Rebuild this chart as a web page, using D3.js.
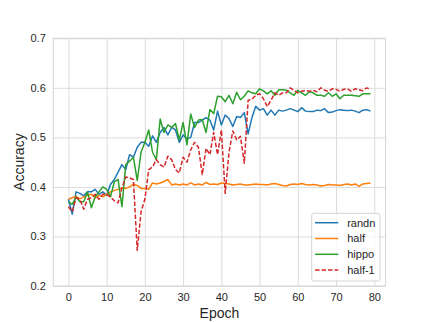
<!DOCTYPE html>
<html>
<head>
<meta charset="utf-8">
<script src="https://cdn.jsdelivr.net/npm/d3@7"></script>
<style>
  body { margin: 0; background: #fff; }
  svg text { font-family: "Liberation Sans", Arial, sans-serif; fill: #262626; }
</style>
</head>
<body>
<div id="chart"></div>
<script>
const width = 429,
    height = 322;

const margin = {left: 53.3, right: 429 - 385.6, top: 38.3, bottom: 322 - 286};

// epochs 0..79
const epochs = d3.range(0, 80);

const seriesNames = ["randn", "half", "hippo", "half-1"];

const randn = [
    0.375, 0.345, 0.390, 0.387, 0.382, 0.390, 0.390, 0.395, 0.385, 0.390,
    0.383, 0.405, 0.415, 0.430, 0.445, 0.435, 0.465, 0.460, 0.480, 0.490,
    0.490, 0.482, 0.503, 0.490, 0.510, 0.520, 0.505, 0.520, 0.515, 0.490,
    0.505, 0.497, 0.500, 0.530, 0.530, 0.535, 0.540, 0.535, 0.515, 0.553,
    0.525, 0.545, 0.538, 0.522, 0.542, 0.540, 0.550, 0.507, 0.540, 0.563,
    0.555, 0.558, 0.545, 0.555, 0.545, 0.555, 0.553, 0.555, 0.558, 0.555,
    0.552, 0.560, 0.553, 0.552, 0.552, 0.555, 0.554, 0.558, 0.550, 0.551,
    0.554, 0.556, 0.555, 0.554, 0.555, 0.553, 0.550, 0.555, 0.556, 0.553
];

const half = [
    0.375, 0.378, 0.381, 0.376, 0.380, 0.383, 0.385, 0.378, 0.383, 0.380,
    0.385, 0.390, 0.393, 0.395, 0.398, 0.397, 0.400, 0.405, 0.403, 0.397,
    0.397, 0.395, 0.408, 0.406, 0.408, 0.411, 0.415, 0.404, 0.406, 0.404,
    0.406, 0.404, 0.408, 0.404, 0.406, 0.404, 0.409, 0.405, 0.406, 0.405,
    0.408, 0.407, 0.406, 0.404, 0.405, 0.406, 0.404, 0.404, 0.405, 0.406,
    0.405, 0.405, 0.404, 0.406, 0.407, 0.405, 0.403, 0.402, 0.405, 0.406,
    0.405, 0.407, 0.405, 0.404, 0.405, 0.404, 0.402, 0.403, 0.405, 0.404,
    0.404, 0.403, 0.405, 0.406, 0.404, 0.406, 0.401, 0.406, 0.407, 0.408
];

const hippo = [
    0.370, 0.365, 0.380, 0.370, 0.370, 0.390, 0.358, 0.380, 0.390, 0.400,
    0.395, 0.380, 0.410, 0.415, 0.360, 0.445, 0.452, 0.460, 0.413, 0.470,
    0.490, 0.515, 0.470, 0.455, 0.537, 0.510, 0.525, 0.520, 0.528, 0.495,
    0.530, 0.485, 0.547, 0.520, 0.535, 0.536, 0.510, 0.556, 0.548, 0.583,
    0.582, 0.572, 0.585, 0.568, 0.591, 0.576, 0.583, 0.594, 0.590, 0.588,
    0.598, 0.594, 0.588, 0.594, 0.585, 0.596, 0.596, 0.595, 0.590, 0.585,
    0.595, 0.590, 0.585, 0.592, 0.590, 0.585, 0.585, 0.583, 0.590, 0.583,
    0.588, 0.578, 0.585, 0.585, 0.585, 0.584, 0.583, 0.588, 0.588, 0.588
];

const halfInv = [
    0.360, 0.350, 0.378, 0.375, 0.355, 0.375, 0.378, 0.385, 0.375, 0.385,
    0.385, 0.380, 0.372, 0.368, 0.398, 0.420, 0.418, 0.415, 0.272, 0.350,
    0.375, 0.435, 0.440, 0.455, 0.445, 0.440, 0.462, 0.455, 0.435, 0.428,
    0.460, 0.450, 0.475, 0.490, 0.480, 0.425, 0.478, 0.465, 0.510, 0.465,
    0.515, 0.387, 0.470, 0.513, 0.495, 0.502, 0.448, 0.575, 0.577, 0.585,
    0.588, 0.578, 0.562, 0.575, 0.590, 0.585, 0.590, 0.590, 0.600, 0.595,
    0.590, 0.593, 0.595, 0.593, 0.595, 0.592, 0.600, 0.595, 0.593, 0.598,
    0.597, 0.593, 0.597, 0.598, 0.593, 0.598, 0.596, 0.594, 0.600, 0.597
];

const xTicks = [0, 10, 20, 30, 40, 50, 60, 70, 80];
const yTicks = [0.2, 0.3, 0.4, 0.5, 0.6, 0.7];

const colors = ["#1f77b4", "#ff7f0e", "#2ca02c", "#d62728"];
const dashes = [null, null, null, "4.5,2"];

const svg = d3.select("#chart")
    .append("svg")
    .attr("width", width)
    .attr("height", height);

const x = d3.scaleLinear()
    .domain([-3.95, 82.95])
    .range([margin.left, width - margin.right]);

const y = d3.scaleLinear()
    .domain([0.2, 0.7])
    .range([height - margin.bottom, margin.top]);

const plotW = width - margin.left - margin.right,
    plotH = height - margin.top - margin.bottom;

// grid + tick labels
const xAxis = svg.append("g")
    .attr("transform", `translate(0,${height - margin.bottom})`)
    .call(d3.axisBottom(x).tickValues(xTicks).tickSize(-plotH).tickPadding(7));

const yAxis = svg.append("g")
    .attr("transform", `translate(${margin.left},0)`)
    .call(d3.axisLeft(y).tickValues(yTicks).tickFormat(d3.format(".1f")).tickSize(-plotW).tickPadding(7.5));

[xAxis, yAxis].forEach(g => {
    g.select(".domain").remove();
    g.selectAll(".tick line")
        .attr("stroke", "#dcdcdc")
        .attr("stroke-width", 1);
    g.selectAll(".tick text")
        .style("font-size", "11px")
        .attr("fill", "#262626");
});

// frame
svg.append("rect")
    .attr("x", margin.left)
    .attr("y", margin.top)
    .attr("width", plotW)
    .attr("height", plotH)
    .attr("fill", "none")
    .attr("stroke", "#d4d4d4")
    .attr("stroke-width", 1);

// the lines
const allSeries = [randn, half, hippo, halfInv];

const line = d3.line()
    .x((d, i) => x(epochs[i]))
    .y(d => y(d));

allSeries.forEach((vals, k) => {
    svg.append("path")
        .datum(vals)
        .attr("d", line)
        .attr("fill", "none")
        .attr("stroke", colors[k])
        .attr("stroke-width", 1.5)
        .attr("stroke-linejoin", "round")
        .attr("stroke-dasharray", dashes[k]);
});

// axis labels
svg.append("text")
    .text("Epoch")
    .attr("x", margin.left + plotW / 2)
    .attr("y", 318)
    .attr("text-anchor", "middle")
    .style("font-size", "14px");

svg.append("text")
    .text("Accuracy")
    .attr("transform", `translate(24,${margin.top + plotH / 2}) rotate(-90)`)
    .attr("text-anchor", "middle")
    .style("font-size", "14px");

// legend
const legend = svg.append("g")
    .attr("transform", "translate(311.7,213.3)");

legend.append("rect")
    .attr("width", 68.3)
    .attr("height", 67.7)
    .attr("rx", 2.5)
    .attr("fill", "white")
    .attr("fill-opacity", 0.8)
    .attr("stroke", "#d4d4d4")
    .attr("stroke-width", 1);

seriesNames.forEach((name, i) => {
    const yRow = 9.4 + i * 15.8;
    legend.append("line")
        .attr("x1", 3.3)
        .attr("x2", 26.6)
        .attr("y1", yRow)
        .attr("y2", yRow)
        .attr("stroke", colors[i])
        .attr("stroke-width", 1.5)
        .attr("stroke-dasharray", dashes[i]);
    legend.append("text")
        .text(name)
        .attr("x", 35.5)
        .attr("y", yRow)
        .attr("dy", "0.35em")
        .style("font-size", "11px");
});
</script>
</body>
</html>
